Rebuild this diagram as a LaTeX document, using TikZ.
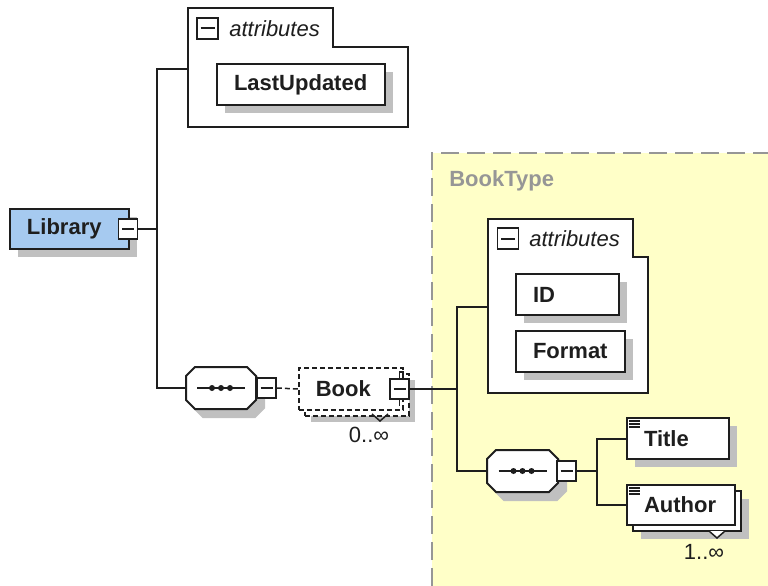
\documentclass[tikz,border=0pt]{standalone}
\usepackage{fontspec}
\setmainfont{Liberation Sans}
\usetikzlibrary{shadows}
\definecolor{inkdark}{RGB}{30,30,30}
\definecolor{libblue}{RGB}{166,202,240}
\definecolor{shadowgray}{RGB}{192,192,192}
\definecolor{typefill}{RGB}{255,255,200}
\definecolor{typegray}{RGB}{150,150,150}
\begin{document}
\begin{tikzpicture}[
  x=1pt, y=-1pt,
  line width=2pt, color=inkdark,
  every node/.style={font=\fontsize{22}{26}\selectfont},
  elem/.style={draw, fill=white, anchor=west, minimum height=41pt,
    inner xsep=17pt, inner ysep=0pt, align=left,
    font=\fontsize{22}{26}\selectfont\bfseries},
  boxshadow/.style={drop shadow={shadow xshift=#1, shadow yshift=-#1,
    opacity=1, fill=shadowgray}},
  boxshadow/.default=8pt,
  stacked/.style={copy shadow={shadow xshift=6pt, shadow yshift=-6pt,
    draw=inkdark, fill=white, #1}},
  stacked/.default={},
  minus/.style={draw, fill=white, minimum width=19pt, minimum height=20pt,
    inner sep=0pt, line width=1.8pt,
    path picture={\draw[line width=2pt]
      ([xshift=3.5pt]path picture bounding box.west) --
      ([xshift=-3.5pt]path picture bounding box.east);}},
  seq/.style={minimum width=68pt, minimum height=40pt, inner sep=0pt},
  attrtitle/.style={anchor=west, font=\fontsize{22}{26}\selectfont\itshape}
]
\useasboundingbox (0,0) rectangle (768,586);

% complex type area
\fill[typefill] (432,153) rectangle (768,586);
\draw[typegray, line width=2.5pt, dash pattern=on 18pt off 8pt]
  (432,586) -- (432,153) -- (768,153);
\node[anchor=west, text=typegray, font=\fontsize{22}{26}\selectfont\bfseries]
  (booktype) at (445,181) {BookType};

% attribute groups
\draw[fill=white] (188,8) -- (333,8) -- (333,47) -- (408,47) -- (408,127)
  -- (188,127) -- cycle;
\coordinate (attrAin) at (188,69);
\node[minus, minimum width=21pt, minimum height=21pt] (attrApm) at (207.5,28.5) {};
\node[attrtitle] (attrAlbl) at (225,29) {attributes};
\node[elem, boxshadow, text width=134pt] (lastupdated) at (216,84.5) {LastUpdated};

\draw[fill=white] (488,219) -- (633,219) -- (633,257) -- (648,257) -- (648,393)
  -- (488,393) -- cycle;
\coordinate (attrBin) at (488,307);
\node[minus, minimum width=21pt, minimum height=21pt] (attrBpm) at (508,238.5) {};
\node[attrtitle] (attrBlbl) at (525,239) {attributes};
\node[elem, boxshadow, text width=69pt] (id) at (515,294.5) {ID};
\node[elem, boxshadow, text width=75pt] (format) at (515,351) {Format};

% elements
\node[elem, boxshadow, fill=libblue, minimum height=40pt, text width=85pt]
  (library) at (9,229) {Library};
\node[minus] (libpm) at (128,229) {};

\node[seq] (seqA) at (221,388) {};
\node[seq, minimum width=69pt] (seqB) at (522.5,471) {};

% sequence octagons
\foreach \s in {seqA,seqB} {
  \foreach \sh/\col/\edge in {8/shadowgray/shadowgray,0/white/inkdark}
    \draw[fill=\col, draw=\edge,
      transform canvas={xshift=\sh pt, yshift=-\sh pt}]
      ([xshift=9pt]\s.north west) -- ([xshift=-9pt]\s.north east)
      -- ([yshift=-9pt]\s.north east) -- ([yshift=9pt]\s.south east)
      -- ([xshift=-9pt]\s.south east) -- ([xshift=9pt]\s.south west)
      -- ([yshift=9pt]\s.south west) -- ([yshift=-9pt]\s.north west) -- cycle;
  \draw ([xshift=-24pt]\s.center) -- ([xshift=24pt]\s.center);
  \foreach \d in {-9,0,9}
    \fill ([xshift=\d pt]\s.center) circle (3pt);
}
\node[minus] (seqApm) at (266.5,388) {};
\node[minus] (seqBpm) at (566.5,471) {};

\node[elem, boxshadow=12pt, stacked={dash pattern=on 5pt off 3pt},
  dash pattern=on 5pt off 3pt, line width=1.5pt, minimum height=42pt,
  text width=70pt] (book) at (298,389) {Book};
\node[minus] (bookpm) at (399.5,389) {};
\draw[line width=1.5pt] (bookpm.north) -- ++(0,-6) -- ++(4,0);
\draw[line width=1.5pt] (bookpm.south) -- ++(0,6);
\draw[line width=1.5pt] (372,414) -- (380,421) -- (388,414);
\node (bookmult) at (369,435) {0..∞};

\node[elem, boxshadow, text width=68pt] (title) at (626,438.5) {Title};
\node[elem, boxshadow=14pt, stacked, minimum height=40pt, text width=74pt]
  (author) at (626,505) {Author};
\draw[line width=1.5pt, fill=white] (709,531) -- (717,538) -- (725,531);
\node (authormult) at (704,552) {1..∞};

% text icons
\foreach \n in {title,author}
  \foreach \k in {4,7,10}
    \draw[line width=1.2pt] ([shift={(3,\k)}]\n.north west) -- ++(11,0);

% connectors
\draw (libpm.east) -- ++(19,0) coordinate (j1);
\draw (attrAin) -| (j1) |- (seqA.west);
\draw[line width=1.5pt, dash pattern=on 5pt off 3pt] (seqApm.east) -- (book.west);
\draw (bookpm.east) -- (457,389) coordinate (j2);
\draw (attrBin) -| (j2) |- (seqB.west);
\draw (seqBpm.east) -- ++(20,0) coordinate (j3);
\draw (title.west) -| (j3) |- (author.west);

\end{tikzpicture}
\end{document}
